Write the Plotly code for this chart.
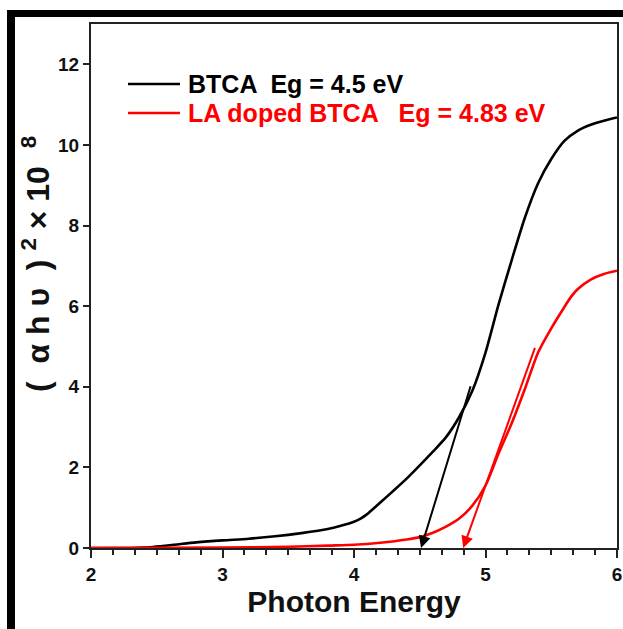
import plotly.graph_objects as go

# ---- data ----
energy_btca = [2.0, 2.3, 2.4, 2.6, 2.8, 3.0, 3.2, 3.4, 3.6, 3.8, 3.9, 4.0, 4.05, 4.1, 4.2, 4.3,
               4.4, 4.5, 4.6, 4.7, 4.8, 4.9, 5.0, 5.1, 5.2, 5.3, 5.4, 5.5, 5.6, 5.7, 5.8, 5.9, 6.0]
alpha_btca = [0.0, 0.0, 0.01, 0.07, 0.14, 0.19, 0.23, 0.29, 0.37, 0.47, 0.55, 0.65, 0.73, 0.84, 1.13, 1.42,
              1.72, 2.05, 2.39, 2.75, 3.25, 3.9, 4.85, 6.05, 7.15, 8.2, 9.05, 9.65, 10.1, 10.35, 10.5, 10.6, 10.68]

energy_la = [2.0, 3.0, 3.5, 3.8, 4.0, 4.2, 4.4, 4.5, 4.6, 4.7, 4.8, 4.9, 5.0, 5.1, 5.2, 5.3,
             5.4, 5.5, 5.6, 5.65, 5.7, 5.8, 5.9, 6.0]
alpha_la = [0.0, 0.01, 0.03, 0.06, 0.08, 0.13, 0.21, 0.27, 0.38, 0.53, 0.73, 1.05, 1.55, 2.35, 3.1, 3.95,
            4.85, 5.45, 5.98, 6.23, 6.42, 6.66, 6.8, 6.88]

# tangent (band-gap extrapolation) lines: [intercept, upper end]
tangent_btca_x = [4.51, 4.89]
tangent_btca_y = [0.0, 4.05]
tangent_la_x = [4.83, 5.38]
tangent_la_y = [0.0, 5.0]

series_names = ["BTCA  Eg = 4.5 eV", "LA doped BTCA \u00a0\u00a0Eg = 4.83 eV"]
series_colors = ["#000000", "#FF0000"]

x_ticks = [2, 3, 4, 5, 6]
y_ticks = [0, 2, 4, 6, 8, 10, 12]

x_title = "<b>Photon Energy</b>"
y_title = ("<b>(\u00a0\u00a0α\u00a0h\u00a0υ\u00a0\u00a0)\u00a0<sup>2</sup>"
           "\u00a0×\u00a010\u00a0\u00a0<sup>8</sup></b>")

FONT = "Liberation Sans, Arial, sans-serif"

fig = go.Figure()
fig.add_trace(go.Scatter(x=energy_btca, y=alpha_btca, mode="lines", name=series_names[0],
                         line=dict(color=series_colors[0], width=2.6, shape="spline", smoothing=0.7),
                         showlegend=False))
fig.add_trace(go.Scatter(x=energy_la, y=alpha_la, mode="lines", name=series_names[1],
                         line=dict(color=series_colors[1], width=2.6, shape="spline", smoothing=0.7),
                         showlegend=False))

# tangent lines with arrowheads at the x-intercept
for tx, ty, col in [(tangent_btca_x, tangent_btca_y, series_colors[0]),
                    (tangent_la_x, tangent_la_y, series_colors[1])]:
    fig.add_annotation(x=tx[0], y=ty[0], ax=tx[1], ay=ty[1], xref="x", yref="y",
                       axref="x", ayref="y", showarrow=True, arrowhead=2, arrowsize=1.2,
                       arrowwidth=2, arrowcolor=col, text="")

# manual legend (long line samples as in the reference)
W, H = 623, 629
ml, mr, mt, mb = 91, 6, 24, 81
pw, ph = W - ml - mr, H - mt - mb

def px(xp):
    return (xp - ml) / pw

def py(yp):
    return (H - mb - yp) / ph

for i, (yy, name, col) in enumerate(zip([84, 113], series_names, series_colors)):
    fig.add_shape(type="line", xref="paper", yref="paper", x0=px(128), x1=px(180),
                  y0=py(yy), y1=py(yy), line=dict(color=col, width=2.6))
    fig.add_annotation(xref="paper", yref="paper", x=px(186), y=py(yy), text="<b>" + name + "</b>",
                       showarrow=False, xanchor="left", yanchor="middle",
                       font=dict(family=FONT, size=25, color=col))

# y-axis title placed like the reference (slightly above centre)
fig.add_annotation(xref="paper", yref="paper", x=px(36), y=py(264), text=y_title,
                   textangle=-90, showarrow=False, xanchor="center", yanchor="middle",
                   font=dict(family=FONT, size=32, color="#111"))

# black frame pieces of the original picture
fig.add_shape(type="rect", xref="paper", yref="paper", x0=px(7), x1=px(623), y0=py(17), y1=py(10),
              fillcolor="black", line=dict(width=0), layer="above")
fig.add_shape(type="rect", xref="paper", yref="paper", x0=px(7), x1=px(15), y0=py(629), y1=py(10),
              fillcolor="black", line=dict(width=0), layer="above")

fig.update_layout(
    width=W, height=H,
    margin=dict(l=ml, r=mr, t=mt, b=mb, autoexpand=False),
    paper_bgcolor="white", plot_bgcolor="white",
    font=dict(family=FONT, color="black"),
    xaxis=dict(range=[2, 6], tickvals=x_ticks, ticktext=[str(v) for v in x_ticks],
               ticks="outside", ticklen=8, tickwidth=2, tickcolor="#222",
               minor=dict(dtick=1/6, ticks="outside", ticklen=5, tickwidth=1.5, tickcolor="#222"),
               showline=True, linecolor="#222", linewidth=2, mirror=True,
               showgrid=False, zeroline=False,
               tickfont=dict(family=FONT, size=19, color="#111", weight="bold"),
               title=dict(text=x_title, font=dict(family=FONT, size=30, color="#111"),
                          standoff=2)),
    yaxis=dict(range=[0, 13], tickvals=y_ticks, ticktext=[str(v) for v in y_ticks],
               ticks="outside", ticklen=6, tickwidth=2, tickcolor="#222",
               showline=True, linecolor="#222", linewidth=2, mirror=True,
               showgrid=False, zeroline=False,
               tickfont=dict(family=FONT, size=19, color="#111", weight="bold")),
)

fig.write_html("out.html", config={"displayModeBar": False})

# remove the browser's default page margin so the figure sits at the window origin
with open("out.html", encoding="utf-8") as f:
    html = f.read()
html = html.replace("<head>", "<head><style>html,body{margin:0;padding:0;overflow:hidden;}</style>", 1)
with open("out.html", "w", encoding="utf-8") as f:
    f.write(html)
